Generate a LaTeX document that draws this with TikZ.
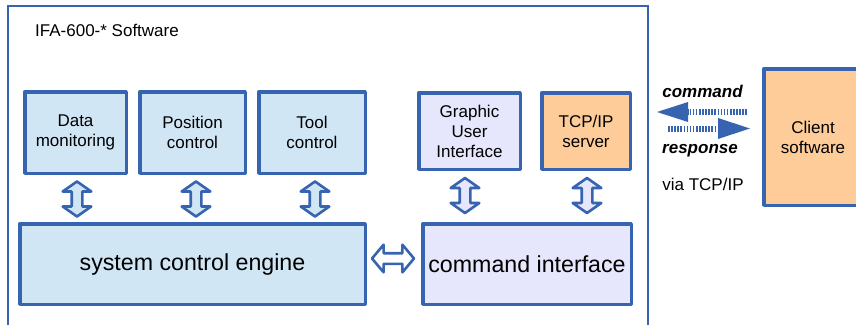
\documentclass[tikz,border=0pt]{standalone}
\usepackage{fontspec}
\setmainfont{Liberation Sans}
\usetikzlibrary{shapes.arrows,calc}
\definecolor{bblue}{RGB}{54,100,176}
\definecolor{fblue}{RGB}{208,230,244}
\definecolor{flav}{RGB}{230,230,252}
\definecolor{forange}{RGB}{254,204,153}
\begin{document}
\begin{tikzpicture}[x=1pt,y=-1pt,
  box/.style={draw=bblue, line width=3.5pt, line join=round, rectangle, inner sep=0pt,
    align=center, font=\fontsize{17}{20}\selectfont},
  bigbox/.style={box, font=\fontsize{23.2}{26}\selectfont},
  vdarr/.style={double arrow, draw=bblue, line width=2.6pt, line join=round, rotate=90,
    minimum height=35pt, minimum width=26pt, inner sep=4pt,
    double arrow head extend=9pt, double arrow tip angle=110},
  hdarr/.style={double arrow, draw=bblue, line width=2.6pt, line join=round, fill=white,
    minimum height=42pt, minimum width=25pt, inner sep=4pt,
    double arrow head extend=8.5pt, double arrow tip angle=100},
  lbl/.style={font=\fontsize{17}{20}\selectfont, inner sep=0pt},
  shaft/.style={bblue, line width=6pt, dash pattern=on 1.6pt off 1.5pt}
]
\useasboundingbox (0,0) rectangle (856,324);
\clip (0,0) rectangle (856,324);
% outer frame
\draw[bblue, line width=1.5pt] (8,330) -- (8,6) -- (648,6) -- (648,330);
\node[lbl, anchor=base west] (title) at (35,36) {IFA-600-* Software};
% top boxes
\node[box, fill=fblue, minimum width=101.5pt, minimum height=81.5pt] (dm) at (75.5,132.5) {Data\\monitoring};
\node[box, fill=fblue, minimum width=105.5pt, minimum height=81.5pt] (pc) at (192.5,132.5) {Position\\control};
\node[box, fill=fblue, minimum width=106.5pt, minimum height=81.5pt] (tc) at (312,132.5) {Tool\\control};
\node[box, fill=flav, minimum width=101.5pt, minimum height=76.5pt] (gui) at (469.5,131) {Graphic\\User\\Interface};
\node[box, fill=forange, minimum width=88.5pt, minimum height=76.5pt] (tcp) at (586,131) {TCP/IP\\server};
% bottom boxes
\node[bigbox, fill=fblue, minimum width=345.5pt, minimum height=80.5pt] (sce) at (192.5,264) {system control engine};
\node[bigbox, fill=flav, minimum width=208.5pt, minimum height=80.5pt] (ci) at (527,264) {command interface};
% client
\node[box, fill=forange, minimum width=98.5pt, minimum height=136.5pt] (cl) at (813,137) {Client\\software};
% vertical double arrows
\node[vdarr, fill=fblue] (a1) at (77,199) {};
\node[vdarr, fill=fblue] (a2) at (196,199) {};
\node[vdarr, fill=fblue] (a3) at (315,199) {};
\node[vdarr, fill=flav] (a4) at (465,195.5) {};
\node[vdarr, fill=flav] (a5) at (587,195.5) {};
% horizontal double arrow
\node[hdarr] (a6) at (393,258.5) {};
% command / response arrows
\coordinate (cmdS) at (747,112);
\coordinate (cmdH) at (688,112);
\coordinate (cmdT) at (657,112);
\coordinate (resS) at (668,128.5);
\coordinate (resH) at (718,128.5);
\coordinate (resT) at (750,128.5);
\draw[shaft] (cmdS) -- (cmdH);
\fill[bblue] (cmdT) -- ($(cmdH)+(0,-10)$) -- ($(cmdH)+(0,10)$) -- cycle;
\draw[shaft] (resS) -- (resH);
\fill[bblue] (resT) -- ($(resH)+(0,-10.5)$) -- ($(resH)+(0,10.5)$) -- cycle;
\node[lbl, anchor=base, font=\fontsize{17}{20}\selectfont\bfseries\itshape] (cmd) at (702.5,97) {command};
\node[lbl, anchor=base, font=\fontsize{17}{20}\selectfont\bfseries\itshape] (res) at (700,153) {response};
\node[lbl, anchor=base] (via) at (703,190) {via TCP/IP};
\end{tikzpicture}
\end{document}
